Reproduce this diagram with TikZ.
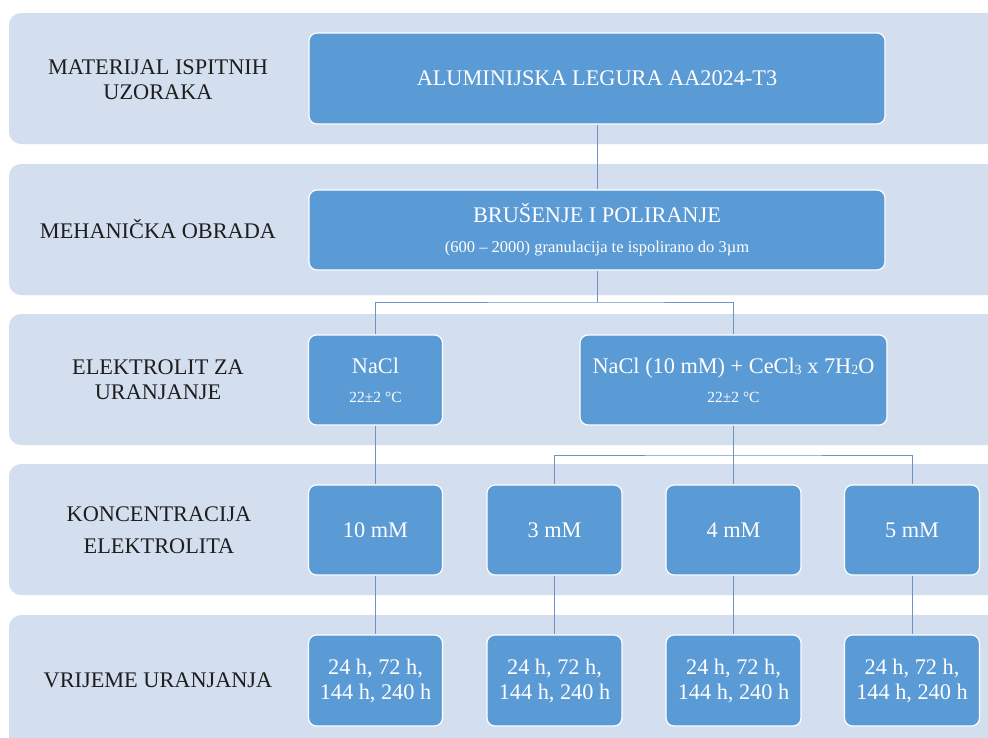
\documentclass[tikz,border=0pt]{standalone}
\usepackage{fontspec}
\setmainfont{Liberation Serif}
\definecolor{bandc}{HTML}{D3DEEE}
\definecolor{boxc}{HTML}{5B9BD5}
\definecolor{linec}{HTML}{6F93C7}
\definecolor{labc}{HTML}{1E1E1E}
\newcommand{\smallsub}[1]{{\fontsize{14}{14}\selectfont\raisebox{-1pt}{#1}}}
\newcommand{\subtxt}[1]{{\fontsize{16.5}{18}\selectfont #1}}
\newcommand{\temptxt}[1]{{\fontsize{15.5}{18}\selectfont #1}}
\begin{document}
\begin{tikzpicture}[x=1pt,y=-1pt,
  band/.style={fill=bandc, rounded corners=12pt},
  bx/.style={draw=white, line width=1.2pt, fill=boxc, rounded corners=8pt, text=white,
    font=\fontsize{22.3}{25}\selectfont, align=center, inner sep=0pt},
  lab/.style={text=labc, font=\fontsize{22.3}{25}\selectfont, align=center},
  conn/.style={draw=linec, line width=0.9pt}]
\useasboundingbox (0,0) rectangle (988,737);
\clip (0,0) rectangle (988,737);
\fill[white] (0,0) rectangle (988,737);
% bands
\fill[band] (9,13) rectangle (1010,144);
\fill[band] (9,164) rectangle (1010,295);
\fill[band] (9,314) rectangle (1010,445);
\fill[band] (9,464) rectangle (1010,595);
\fill[band] (9,615) rectangle (1010,760);
% labels
\node[lab] (l1) at (158,80) {MATERIJAL ISPITNIH\\UZORAKA};
\node[lab] (l2) at (158,229) {MEHANIČKA OBRADA};
\node[lab] (l3) at (158,380) {ELEKTROLIT ZA\\URANJANJE};
\node[lab, font=\fontsize{22.3}{32}\selectfont] (l4) at (159,530) {KONCENTRACIJA\\ELEKTROLITA};
\node[lab] (l5) at (158,680) {VRIJEME URANJANJA};
% boxes
\node[bx, minimum width=576pt, minimum height=91pt] (b1) at (597,78.5) {ALUMINIJSKA LEGURA AA2024-T3};
\node[bx, minimum width=576pt, minimum height=80pt] (b2) at (597,230) {BRUŠENJE I POLIRANJE\\[5pt]\subtxt{(600 – 2000) granulacija te ispolirano do 3µm}};
\node[bx, minimum width=134pt, minimum height=90pt] (nacl) at (375.5,380) {NaCl\\[4pt]\temptxt{22±2 °C}};
\node[bx, minimum width=307pt, minimum height=90pt] (cecl) at (733.5,380) {NaCl (10 mM) + CeCl\smallsub{3} x 7H\smallsub{2}O\\[4pt]\temptxt{22±2 °C}};
\node[bx, minimum width=134pt, minimum height=90pt] (c10) at (375.5,530) {10 mM};
\node[bx, minimum width=135pt, minimum height=90pt] (c3) at (554.5,530) {3 mM};
\node[bx, minimum width=135pt, minimum height=90pt] (c4) at (733.5,530) {4 mM};
\node[bx, minimum width=135pt, minimum height=90pt] (c5) at (912,530) {5 mM};
\node[bx, minimum width=134pt, minimum height=91pt] (t10) at (375.5,680.5) {24 h, 72 h,\\144 h, 240 h};
\node[bx, minimum width=135pt, minimum height=91pt] (t3) at (554.5,680.5) {24 h, 72 h,\\144 h, 240 h};
\node[bx, minimum width=135pt, minimum height=91pt] (t4) at (733.5,680.5) {24 h, 72 h,\\144 h, 240 h};
\node[bx, minimum width=135pt, minimum height=91pt] (t5) at (912,680.5) {24 h, 72 h,\\144 h, 240 h};
% connectors
\coordinate (j1) at (597,302);
\coordinate (j2) at (733.5,455);
\draw[conn] (b1.south) -- (b2.north);
\draw[conn] (b2.south) -- (j1);
\draw[conn] (nacl.north) |- (j1) -| (cecl.north);
\draw[conn] (cecl.south) -- (c4.north);
\draw[conn] (c3.north) |- (j2) -| (c5.north);
\draw[conn] (nacl.south) -- (c10.north);
\draw[conn] (c10.south) -- (t10.north);
\draw[conn] (c3.south) -- (t3.north);
\draw[conn] (c4.south) -- (t4.north);
\draw[conn] (c5.south) -- (t5.north);
\end{tikzpicture}
\end{document}
